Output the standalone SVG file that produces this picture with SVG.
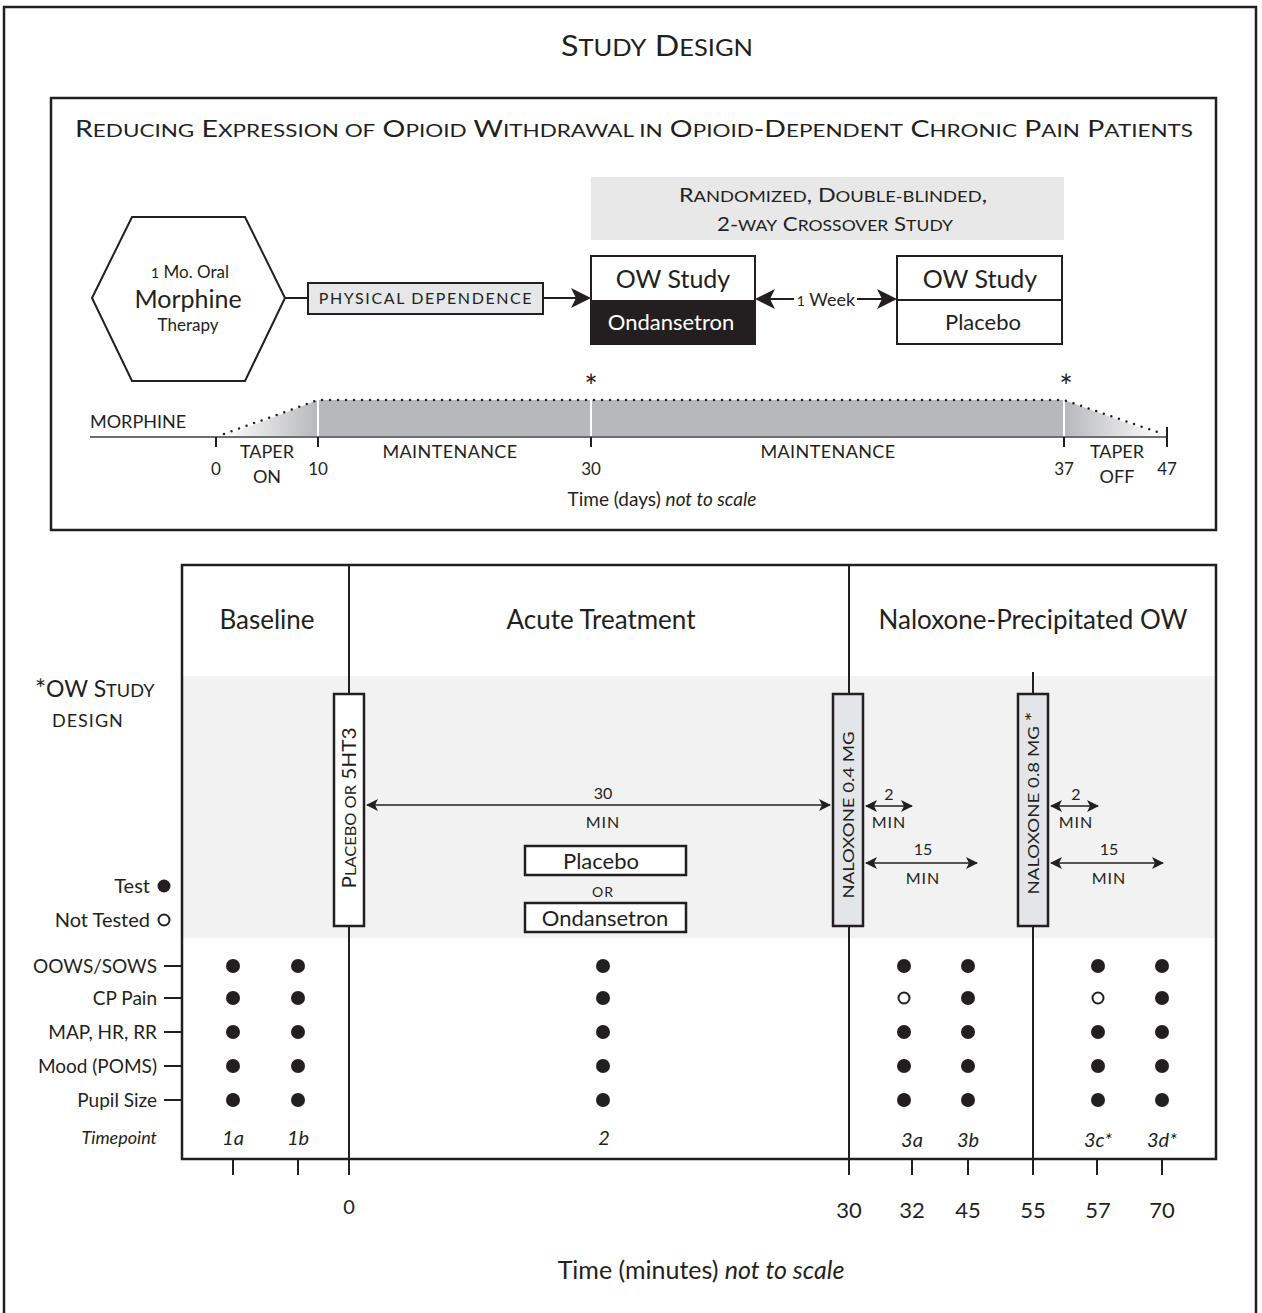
<svg xmlns="http://www.w3.org/2000/svg" width="1262" height="1313" viewBox="0 0 1262 1313">
<defs>
<style>
text{font-family:Lato,"Open Sans","Liberation Sans",sans-serif;fill:#231f20}
.s{font-size:79%}
.it{font-style:italic}
.ln{stroke:#231f20;stroke-width:2;fill:none}
.thin{stroke:#231f20;stroke-width:1.3;fill:none}
.dot{fill:#231f20}
.odot{fill:#fff;stroke:#231f20;stroke-width:2}
.mid{text-anchor:middle}
.end{text-anchor:end}
</style>
<marker id="bigA" viewBox="0 0 20 20" refX="18" refY="10" markerWidth="20" markerHeight="20" markerUnits="userSpaceOnUse" orient="auto-start-reverse">
<path d="M0,0 L20,10 L0,20 L5,10 Z" fill="#231f20"/>
</marker>
<marker id="smA" viewBox="0 0 12 12" refX="11" refY="6" markerWidth="12" markerHeight="12" markerUnits="userSpaceOnUse" orient="auto-start-reverse">
<path d="M0,0 L12,6 L0,12 L3,6 Z" fill="#231f20"/>
</marker>
<linearGradient id="gOn" x1="222" y1="0" x2="318" y2="0" gradientUnits="userSpaceOnUse">
<stop offset="0" stop-color="#ffffff"/><stop offset="1" stop-color="#b7b8bb"/>
</linearGradient>
<linearGradient id="gOff" x1="1064" y1="0" x2="1165" y2="0" gradientUnits="userSpaceOnUse">
<stop offset="0" stop-color="#b7b8bb"/><stop offset="1" stop-color="#ffffff"/>
</linearGradient>
</defs>
<rect x="0" y="0" width="1262" height="1313" fill="#fff"/>
<rect x="4" y="7" width="1252" height="1320" fill="none" stroke="#231f20" stroke-width="2.5"/>
<text x="657" y="56" class="mid" font-size="28" textLength="192" lengthAdjust="spacingAndGlyphs">S<tspan class="s">TUDY</tspan> D<tspan class="s">ESIGN</tspan></text>

<!-- top panel -->
<g id="top-panel">
<rect x="51" y="98" width="1165" height="432" fill="none" stroke="#231f20" stroke-width="2.5"/>
<text x="634" y="137" class="mid" font-size="23" textLength="1118" lengthAdjust="spacingAndGlyphs">R<tspan class="s">EDUCING</tspan> E<tspan class="s">XPRESSION OF</tspan> O<tspan class="s">PIOID</tspan> W<tspan class="s">ITHDRAWAL IN</tspan> O<tspan class="s">PIOID</tspan>-D<tspan class="s">EPENDENT</tspan> C<tspan class="s">HRONIC</tspan> P<tspan class="s">AIN</tspan> P<tspan class="s">ATIENTS</tspan></text>
</g>

<g id="crossover-label">
<rect x="591" y="177" width="473" height="63" fill="#e8e8e8"/>
<text x="833" y="202" class="mid" font-size="20" textLength="308" lengthAdjust="spacingAndGlyphs">R<tspan class="s">ANDOMIZED</tspan>, D<tspan class="s">OUBLE-BLINDED</tspan>,</text>
<text x="835" y="231" class="mid" font-size="20" textLength="236" lengthAdjust="spacingAndGlyphs">2-<tspan class="s">WAY</tspan> C<tspan class="s">ROSSOVER</tspan> S<tspan class="s">TUDY</tspan></text>
</g>

<g id="morphine-therapy">
<polygon points="92,298 132,217 245,217 285,298 245,381 132,381" fill="#fff" stroke="#231f20" stroke-width="2"/>
<text x="190" y="278" class="mid" font-size="17"><tspan font-size="14">1</tspan> Mo. Oral</text>
<text x="188" y="308" class="mid" font-size="25">Morphine</text>
<text x="188" y="331" class="mid" font-size="17">Therapy</text>
</g>

<g id="physical-dependence">
<rect x="308" y="283" width="235" height="31" fill="#e6e7e8" stroke="#231f20" stroke-width="2"/>
<text x="426" y="304" class="mid" font-size="16" letter-spacing="1.6">PHYSICAL DEPENDENCE</text>
</g>

<g id="ow-study-ondansetron">
<rect x="591" y="256" width="164" height="88" fill="#fff" stroke="#231f20" stroke-width="2"/>
<rect x="591" y="300" width="164" height="44" fill="#231f20"/>
<text x="673" y="288" class="mid" font-size="25">OW Study</text>
<text x="671" y="330" class="mid" font-size="22" style="fill:#fff">Ondansetron</text>
</g>

<g id="ow-study-placebo">
<rect x="897" y="256" width="165" height="88" fill="#fff" stroke="#231f20" stroke-width="2"/>
<line x1="897" y1="300" x2="1062" y2="300" class="ln"/>
<text x="980" y="288" class="mid" font-size="25">OW Study</text>
<text x="983" y="330" class="mid" font-size="22">Placebo</text>
</g>

<g id="top-connectors">
<line x1="285" y1="298" x2="308" y2="298" class="ln"/>
<line x1="543" y1="298" x2="589" y2="298" class="ln" stroke-width="2.5" marker-end="url(#bigA)"/>
<line x1="757" y1="299" x2="794" y2="299" class="ln" stroke-width="2.5" marker-start="url(#bigA)"/>
<line x1="857" y1="299" x2="895" y2="299" class="ln" stroke-width="2.5" marker-end="url(#bigA)"/>
<text x="826" y="306" class="mid" font-size="18"><tspan font-size="14">1</tspan> Week</text>
</g>

<g id="morphine-timeline">
<polygon points="222,437 318,400 318,437" fill="url(#gOn)"/>
<rect x="318" y="400" width="746" height="37" fill="#b7b8bb"/>
<polygon points="1064,400 1165,437 1064,437" fill="url(#gOff)"/>
<line x1="318" y1="400" x2="318" y2="437" stroke="#fff" stroke-width="2"/>
<line x1="591" y1="400" x2="591" y2="437" stroke="#fff" stroke-width="2"/>
<line x1="1064" y1="400" x2="1064" y2="437" stroke="#fff" stroke-width="2"/>
<path d="M224,434 L318,400 L1064,400 L1163,434" fill="none" stroke="#231f20" stroke-width="2.5" stroke-linecap="round" stroke-dasharray="0 8"/>
<line x1="90" y1="437" x2="1168" y2="437" stroke="#6d6e71" stroke-width="2"/>
<g class="ln">
<line x1="216" y1="437" x2="216" y2="447"/>
<line x1="318" y1="437" x2="318" y2="447"/>
<line x1="591" y1="437" x2="591" y2="447"/>
<line x1="1064" y1="437" x2="1064" y2="447"/>
<line x1="1167" y1="427" x2="1167" y2="447"/>
</g>
<text x="90" y="428" font-size="18">MORPHINE</text>
<text x="591" y="398" class="mid" font-size="32">*</text>
<text x="1066" y="398" class="mid" font-size="32">*</text>
<text x="216" y="475" class="mid" font-size="17">0</text>
<text x="267" y="458" class="mid" font-size="18">TAPER</text>
<text x="267" y="483" class="mid" font-size="18">ON</text>
<text x="318" y="475" class="mid" font-size="17">10</text>
<text x="450" y="458" class="mid" font-size="18" letter-spacing="0.4">MAINTENANCE</text>
<text x="591" y="475" class="mid" font-size="17">30</text>
<text x="828" y="458" class="mid" font-size="18" letter-spacing="0.4">MAINTENANCE</text>
<text x="1064" y="475" class="mid" font-size="17">37</text>
<text x="1117" y="458" class="mid" font-size="18">TAPER</text>
<text x="1117" y="483" class="mid" font-size="18">OFF</text>
<text x="1167" y="475" class="mid" font-size="17">47</text>
<text x="662" y="506" class="mid" font-size="19">Time (days) <tspan class="it">not to scale</tspan></text>
</g>

<!-- bottom panel -->
<g id="bottom-panel">
<rect x="182" y="676" width="1034" height="262" fill="#f2f2f2"/>
<rect x="182" y="565" width="1034" height="594" fill="none" stroke="#231f20" stroke-width="2.5"/>
<text x="267" y="629" class="mid" font-size="26">Baseline</text>
<text x="601" y="629" class="mid" font-size="26">Acute Treatment</text>
<text x="1033" y="629" class="mid" font-size="26">Naloxone-Precipitated OW</text>
<text x="35" y="697" font-size="23"><tspan font-size="26" dy="2">*</tspan><tspan dy="-2">OW S</tspan><tspan class="s">TUDY</tspan></text>
<text x="52" y="727" font-size="18" letter-spacing="1">DESIGN</text>
</g>

<g id="phase-lines">
<line x1="349" y1="565" x2="349" y2="1175" class="ln"/>
<line x1="849" y1="565" x2="849" y2="1175" class="ln"/>
<line x1="1033" y1="672" x2="1033" y2="1175" class="ln"/>
</g>

<g id="placebo-or-5ht3">
<rect x="334" y="694" width="30" height="232" fill="#fff" stroke="#231f20" stroke-width="2.5"/>
<text transform="translate(356,808) rotate(-90)" class="mid" font-size="19" textLength="161" lengthAdjust="spacingAndGlyphs">P<tspan class="s">LACEBO OR</tspan> 5HT3</text>
</g>
<g id="naloxone-04">
<rect x="833" y="694" width="30" height="232" fill="#e4e5e8" stroke="#231f20" stroke-width="2.5"/>
<text transform="translate(854,815) rotate(-90)" class="mid" font-size="16" textLength="167" lengthAdjust="spacingAndGlyphs">NALOXONE 0.4 MG</text>
</g>
<g id="naloxone-08">
<rect x="1018" y="694" width="30" height="232" fill="#e4e5e8" stroke="#231f20" stroke-width="2.5"/>
<text transform="translate(1039,803) rotate(-90)" class="mid" font-size="16" textLength="183" lengthAdjust="spacingAndGlyphs">NALOXONE 0.8 MG <tspan font-size="20">*</tspan></text>
</g>

<g id="interval-arrows">
<line x1="367" y1="805" x2="830" y2="805" class="thin" marker-start="url(#smA)" marker-end="url(#smA)"/>
<text x="603" y="799" class="mid" font-size="16">30</text>
<text x="603" y="828" class="mid" font-size="16" letter-spacing="1">MIN</text>
<line x1="866" y1="806" x2="912" y2="806" class="thin" marker-start="url(#smA)" marker-end="url(#smA)"/>
<text x="889" y="800" class="mid" font-size="16">2</text>
<text x="889" y="828" class="mid" font-size="16" letter-spacing="1">MIN</text>
<line x1="866" y1="863" x2="977" y2="863" class="thin" marker-start="url(#smA)" marker-end="url(#smA)"/>
<text x="923" y="855" class="mid" font-size="16">15</text>
<text x="923" y="884" class="mid" font-size="16" letter-spacing="1">MIN</text>
<line x1="1051" y1="806" x2="1098" y2="806" class="thin" marker-start="url(#smA)" marker-end="url(#smA)"/>
<text x="1076" y="800" class="mid" font-size="16">2</text>
<text x="1076" y="828" class="mid" font-size="16" letter-spacing="1">MIN</text>
<line x1="1051" y1="863" x2="1163" y2="863" class="thin" marker-start="url(#smA)" marker-end="url(#smA)"/>
<text x="1109" y="855" class="mid" font-size="16">15</text>
<text x="1109" y="884" class="mid" font-size="16" letter-spacing="1">MIN</text>
</g>

<g id="placebo-option">
<rect x="525" y="846" width="161" height="29" fill="#fff" stroke="#231f20" stroke-width="2.5"/>
<text x="601" y="869" class="mid" font-size="22">Placebo</text>
</g>
<text x="603" y="897" class="mid" font-size="14" letter-spacing="1">OR</text>
<g id="ondansetron-option">
<rect x="525" y="903" width="161" height="29" fill="#fff" stroke="#231f20" stroke-width="2.5"/>
<text x="605" y="926" class="mid" font-size="22">Ondansetron</text>
</g>

<g id="legend">
<text x="150" y="893" class="end" font-size="20">Test</text>
<circle cx="164" cy="886" r="6.5" class="dot"/>
<text x="150" y="927" class="end" font-size="20">Not Tested</text>
<circle cx="164" cy="920" r="5.5" class="odot"/>
</g>

<g id="measures">
<text x="157" y="973" class="end" font-size="19">OOWS/SOWS</text>
<text x="157" y="1005" class="end" font-size="19">CP Pain</text>
<text x="157" y="1039" class="end" font-size="19">MAP, HR, RR</text>
<text x="157" y="1073" class="end" font-size="19">Mood (POMS)</text>
<text x="157" y="1107" class="end" font-size="19">Pupil Size</text>
<text x="157" y="1144" class="end it" font-size="18">Timepoint</text>
<g class="ln">
<line x1="164" y1="966" x2="182" y2="966"/>
<line x1="164" y1="998" x2="182" y2="998"/>
<line x1="164" y1="1032" x2="182" y2="1032"/>
<line x1="164" y1="1066" x2="182" y2="1066"/>
<line x1="164" y1="1100" x2="182" y2="1100"/>
</g>
</g>

<g id="dots">
<g class="dot">
<circle cx="233" cy="966" r="7"/><circle cx="233" cy="998" r="7"/><circle cx="233" cy="1032" r="7"/><circle cx="233" cy="1066" r="7"/><circle cx="233" cy="1100" r="7"/>
<circle cx="298" cy="966" r="7"/><circle cx="298" cy="998" r="7"/><circle cx="298" cy="1032" r="7"/><circle cx="298" cy="1066" r="7"/><circle cx="298" cy="1100" r="7"/>
<circle cx="603" cy="966" r="7"/><circle cx="603" cy="998" r="7"/><circle cx="603" cy="1032" r="7"/><circle cx="603" cy="1066" r="7"/><circle cx="603" cy="1100" r="7"/>
<circle cx="904" cy="966" r="7"/><circle cx="904" cy="1032" r="7"/><circle cx="904" cy="1066" r="7"/><circle cx="904" cy="1100" r="7"/>
<circle cx="968" cy="966" r="7"/><circle cx="968" cy="998" r="7"/><circle cx="968" cy="1032" r="7"/><circle cx="968" cy="1066" r="7"/><circle cx="968" cy="1100" r="7"/>
<circle cx="1098" cy="966" r="7"/><circle cx="1098" cy="1032" r="7"/><circle cx="1098" cy="1066" r="7"/><circle cx="1098" cy="1100" r="7"/>
<circle cx="1162" cy="966" r="7"/><circle cx="1162" cy="998" r="7"/><circle cx="1162" cy="1032" r="7"/><circle cx="1162" cy="1066" r="7"/><circle cx="1162" cy="1100" r="7"/>
</g>
<circle cx="904" cy="998" r="5.5" class="odot"/>
<circle cx="1098" cy="998" r="5.5" class="odot"/>
</g>

<g id="timepoints">
<text x="233" y="1145" class="mid it" font-size="20">1a</text>
<text x="298" y="1145" class="mid it" font-size="20">1b</text>
<text x="604" y="1145" class="mid it" font-size="20">2</text>
<text x="912" y="1147" class="mid it" font-size="20">3a</text>
<text x="968" y="1147" class="mid it" font-size="20">3b</text>
<text x="1098" y="1147" class="mid it" font-size="20">3c*</text>
<text x="1162" y="1147" class="mid it" font-size="20">3d*</text>
</g>

<g id="time-axis">
<g class="ln">
<line x1="233" y1="1159" x2="233" y2="1175"/>
<line x1="298" y1="1159" x2="298" y2="1175"/>
<line x1="912" y1="1159" x2="912" y2="1175"/>
<line x1="968" y1="1159" x2="968" y2="1175"/>
<line x1="1097" y1="1159" x2="1097" y2="1175"/>
<line x1="1162" y1="1159" x2="1162" y2="1175"/>
</g>
<text x="349" y="1214" class="mid" font-size="20">0</text>
<text x="849" y="1218" class="mid" font-size="22">30</text>
<text x="912" y="1218" class="mid" font-size="22">32</text>
<text x="968" y="1218" class="mid" font-size="22">45</text>
<text x="1033" y="1218" class="mid" font-size="22">55</text>
<text x="1098" y="1218" class="mid" font-size="22">57</text>
<text x="1162" y="1218" class="mid" font-size="22">70</text>
<text x="701" y="1279" class="mid" font-size="25">Time (minutes) <tspan class="it">not to scale</tspan></text>
</g>
</svg>
